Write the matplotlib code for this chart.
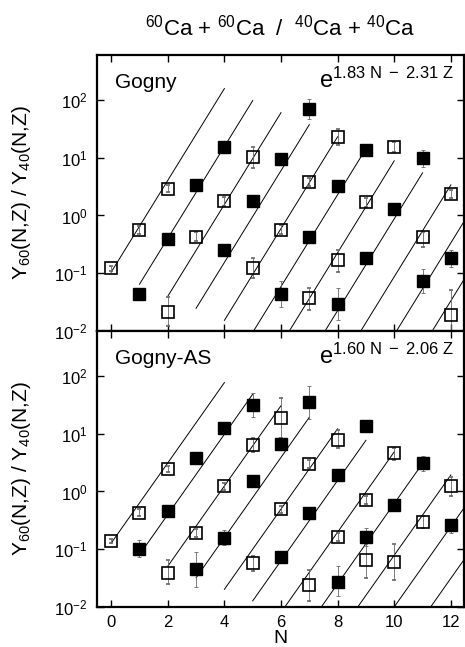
import numpy as np
import matplotlib
matplotlib.use('Agg')
import matplotlib.pyplot as plt
from matplotlib.ticker import NullLocator

plt.rcParams['font.family'] = ['Liberation Sans', 'DejaVu Sans']
plt.rcParams['mathtext.fontset'] = 'custom'
plt.rcParams['mathtext.rm'] = 'Liberation Sans'
plt.rcParams['mathtext.it'] = 'Liberation Sans:italic'
plt.rcParams['mathtext.bf'] = 'Liberation Sans:bold'

# ---- Gogny (top panel) ----
g_open_n = [0, 1, 2, 2, 3, 4, 5, 5, 6, 7, 7, 8, 8, 9, 10, 11, 12, 12]
g_open_y = [0.122, 0.56, 2.9, 0.021, 0.43, 1.75, 10.2, 0.122, 0.57, 3.75, 0.037, 23, 0.17, 1.69, 15.5, 0.42, 2.39, 0.019]
g_open_lo = [0.11, 0.48, 2.5, 0.012, 0.36, 1.45, 6.7, 0.082, 0.48, 3.2, 0.023, 16.5, 0.107, 1.4, 12.5, 0.29, 2.0, 0.009]
g_open_hi = [0.135, 0.65, 3.4, 0.039, 0.52, 2.1, 15.5, 0.18, 0.68, 4.4, 0.055, 31, 0.254, 2.0, 19, 0.51, 2.8, 0.051]

g_fill_n = [1, 2, 3, 4, 4, 5, 6, 6, 7, 7, 8, 8, 9, 9, 10, 11, 11, 12]
g_fill_y = [0.043, 0.39, 3.4, 15.1, 0.254, 1.75, 9.6, 0.043, 69, 0.42, 3.3, 0.029, 13.5, 0.18, 1.29, 9.7, 0.074, 0.18]
g_fill_lo = [0.043, 0.39, 3.4, 12.5, 0.254, 1.75, 8.0, 0.026, 46, 0.36, 3.3, 0.0155, 13.5, 0.16, 1.29, 6.9, 0.045, 0.13]
g_fill_hi = [0.043, 0.39, 3.4, 18, 0.254, 1.75, 11.5, 0.073, 102, 0.5, 3.3, 0.055, 13.5, 0.21, 1.29, 13.8, 0.117, 0.254]

# ---- Gogny-AS (bottom panel) ----
a_open_n = [0, 1, 2, 2, 3, 4, 5, 5, 6, 6, 7, 7, 8, 8, 9, 9, 10, 10, 11, 12]
a_open_y = [0.139, 0.43, 2.49, 0.0395, 0.19, 1.22, 6.4, 0.057, 19, 0.49, 2.95, 0.0238, 7.8, 0.166, 0.71, 0.065, 4.7, 0.061, 0.296, 1.22]
a_open_lo = [0.13, 0.37, 2.2, 0.025, 0.16, 1.05, 4.8, 0.042, 8.5, 0.42, 2.5, 0.0128, 5.6, 0.14, 0.6, 0.032, 3.5, 0.0295, 0.23, 0.83]
a_open_hi = [0.15, 0.5, 2.8, 0.065, 0.22, 1.4, 8.5, 0.0766, 42, 0.57, 3.5, 0.0438, 11.8, 0.19, 0.84, 0.122, 5.7, 0.122, 0.37, 1.8]

a_fill_n = [1, 2, 3, 3, 4, 4, 5, 5, 6, 6, 7, 7, 8, 8, 9, 9, 10, 11, 12]
a_fill_y = [0.1, 0.46, 3.86, 0.045, 12.7, 0.159, 31.4, 1.52, 6.56, 0.072, 35.3, 0.42, 1.96, 0.0276, 13.6, 0.166, 0.58, 3.16, 0.26]
a_fill_lo = [0.072, 0.46, 3.86, 0.0226, 12.7, 0.119, 19.5, 1.52, 5.5, 0.06, 18, 0.42, 1.96, 0.0156, 10.8, 0.113, 0.5, 2.3, 0.19]
a_fill_hi = [0.145, 0.46, 3.86, 0.088, 12.7, 0.214, 51, 1.52, 8.0, 0.085, 67, 0.42, 1.96, 0.0515, 16.8, 0.234, 0.68, 4.1, 0.34]

# isoscaling fits  C * exp(a N - b Z), one line per Z
fit_z = list(range(1, 13))
g_fit = (1.83, 2.31, 1.05)
a_fit = (1.60, 2.06, 1.0)

fig = plt.figure(figsize=(4.65, 6.47), dpi=100)
ax1 = fig.add_axes([0.2086, 0.4884, 0.7884, 0.4266])
ax2 = fig.add_axes([0.2086, 0.0618, 0.7884, 0.4266], sharex=ax1)


def draw_panel(ax, open_n, open_y, open_lo, open_hi, fill_n, fill_y, fill_lo, fill_hi, fit, name, formula):
    a, b, c = fit
    for z in fit_z:
        n = np.array([z - 1, z + 3])
        ax.plot(n, c * np.exp(a * n - b * z), color='k', lw=0.7, zorder=1)
    oy = np.array(open_y)
    ax.errorbar(open_n, oy, yerr=[oy - np.array(open_lo), np.array(open_hi) - oy],
                fmt='s', ms=8, mfc='none', mec='k', mew=1.2,
                ecolor='0.4', elinewidth=0.6, capsize=1.5, capthick=0.6, zorder=3)
    fy = np.array(fill_y)
    ax.errorbar(fill_n, fy, yerr=[fy - np.array(fill_lo), np.array(fill_hi) - fy],
                fmt='s', ms=8, mfc='k', mec='k',
                ecolor='0.4', elinewidth=0.6, capsize=1.5, capthick=0.6, zorder=3)
    ax.set_yscale('log')
    ax.set_ylim(1e-2, 6e2)
    ax.set_xlim(-0.5, 12.45)
    ax.set_yticks([1e-2, 1e-1, 1, 10, 100])
    ax.yaxis.set_minor_locator(NullLocator())
    ax.set_xticks(range(0, 13, 2))
    ax.tick_params(direction='in', top=True, right=True, length=5, width=1, labelsize=12)
    ax.tick_params(axis='y', pad=7)
    ax.tick_params(axis='x', pad=5.5)
    for s in ax.spines.values():
        s.set_linewidth(1.6)
    ax.text(0.05, 0.9, name, transform=ax.transAxes, fontsize=15, va='center', ha='left')
    ax.text(0.972, 0.955, formula, transform=ax.transAxes, fontsize=17, va='top', ha='right')
    ax.set_ylabel(r'Y$_{60}$(N,Z) / Y$_{40}$(N,Z)', fontsize=15)
    ax.yaxis.set_label_coords(-0.175, 0.5)


draw_panel(ax1, g_open_n, g_open_y, g_open_lo, g_open_hi, g_fill_n, g_fill_y, g_fill_lo, g_fill_hi,
           g_fit, 'Gogny', r'$\mathrm{e}^{\mathrm{1.83\ N\ -\ 2.31\ Z}}$')
draw_panel(ax2, a_open_n, a_open_y, a_open_lo, a_open_hi, a_fill_n, a_fill_y, a_fill_lo, a_fill_hi,
           a_fit, 'Gogny-AS', r'$\mathrm{e}^{\mathrm{1.60\ N\ -\ 2.06\ Z}}$')

ax1.tick_params(labelbottom=False)
ax2.set_xlabel('N', fontsize=14, labelpad=0)

fig.text(0.602, 0.958, r'$^{60}$Ca + $^{60}$Ca  /  $^{40}$Ca + $^{40}$Ca', fontsize=16, ha='center', va='center')

fig.savefig('out.png', dpi=100)
